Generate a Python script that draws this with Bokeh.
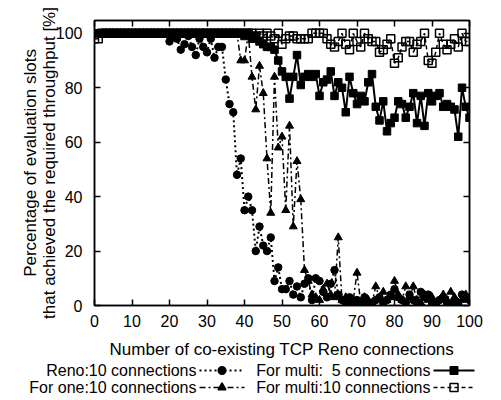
from bokeh.plotting import figure
from bokeh.models import Range1d, LinearAxis, FixedTicker, ColumnDataSource, CustomJSTickFormatter
from bokeh.layouts import column
from bokeh.embed import file_html
from bokeh.resources import INLINE
from bokeh.core.properties import value

# ---------------- data ----------------
connections = list(range(0, 101))

reno_10 = [
    100, 100, 100, 100, 100, 100, 100, 100, 100, 100,   # 0-9
    100, 100, 100, 100, 100, 100, 100, 100, 100, 100,   # 10-19
    97, 99, 98, 94, 96, 99, 95, 92, 98, 95,             # 20-29
    93, 98, 91, 95, 95, 83, 74, 71, 48, 54,             # 30-39
    35, 40, 35, 20, 29, 22, 20, 25, 9, 14,              # 40-49
    6, 6, 9, 4, 7, 3, 8, 10, 2, 10,                     # 50-59
    9, 5, 3, 8, 13, 4, 2, 1, 3, 0,                      # 60-69
    2, 1, 3, 1, 0, 2, 3, 1, 2, 4,                       # 70-79
    6, 3, 2, 1, 4, 2, 0, 5, 3, 4,                       # 80-89
    1, 0, 2, 3, 1, 0, 2, 1, 4, 3,                       # 90-99
    2,
]

one_10 = [
    100, 100, 100, 100, 100, 100, 100, 100, 100, 100,   # 0-9
    100, 100, 100, 100, 100, 100, 100, 100, 100, 100,   # 10-19
    100, 100, 100, 100, 100, 100, 100, 100, 100, 100,   # 20-29
    100, 100, 100, 100, 100, 100, 100, 100, 100, 90,    # 30-39
    90, 100, 84, 72, 88, 78, 54, 34, 84, 58,            # 40-49
    62, 35, 66, 29, 53, 39, 13, 9, 4, 3,                # 50-59
    2, 6, 8, 4, 3, 25, 2, 3, 1, 2,                      # 60-69
    12, 1, 3, 2, 1, 7, 3, 5, 2, 3,                      # 70-79
    9, 4, 2, 7, 3, 7, 2, 1, 4, 2,                       # 80-89
    3, 1, 2, 4, 2, 5, 3, 1, 2, 4,                       # 90-99
    3,
]

multi_5 = [
    100, 100, 100, 100, 100, 100, 100, 100, 100, 100,   # 0-9
    100, 100, 100, 100, 100, 100, 100, 100, 100, 100,   # 10-19
    100, 100, 100, 100, 100, 100, 100, 100, 100, 100,   # 20-29
    100, 100, 100, 100, 100, 100, 100, 100, 100, 100,   # 30-39
    99, 100, 98, 99, 97, 96, 95, 95, 94, 90,            # 40-49
    86, 84, 76, 84, 92, 81, 84, 85, 84, 85,             # 50-59
    77, 82, 83, 86, 77, 82, 80, 71, 84, 78,             # 60-69
    74, 77, 75, 82, 85, 73, 68, 75, 64, 67,             # 70-79
    69, 75, 74, 69, 73, 78, 67, 77, 66, 78,             # 80-89
    75, 77, 78, 73, 74, 73, 72, 62, 80, 73,             # 90-99
    69,
]

multi_10 = [
    98, 98, 100, 100, 100, 100, 100, 100, 100, 100,     # 0-9
    100, 100, 100, 100, 100, 100, 100, 100, 100, 100,   # 10-19
    100, 100, 100, 100, 100, 100, 100, 100, 100, 100,   # 20-29
    100, 100, 100, 100, 100, 100, 100, 100, 100, 100,   # 30-39
    100, 100, 100, 99, 100, 99, 100, 99, 98, 100,       # 40-49
    96, 98, 99, 99, 98, 98, 98, 98, 100, 100,           # 50-59
    100, 100, 98, 96, 95, 97, 100, 96, 94, 100,         # 60-69
    97, 95, 100, 98, 97, 97, 93, 94, 96, 98,            # 70-79
    89, 91, 95, 97, 97, 93, 96, 97, 100, 90,            # 80-89
    89, 93, 100, 96, 94, 96, 98, 95, 100, 97,           # 90-99
    97,
]

x_ticks = list(range(0, 101, 10))
y_ticks = list(range(0, 101, 20))

legend_labels = ["Reno:10 connections", "For one:10 connections",
                 "For multi: \u00a05 connections", "For multi:10 connections"]

# ---------------- styling ----------------
FONT = "Liberation Sans"

p = figure(width=485, height=362,
           x_range=Range1d(0, 100), y_range=Range1d(0, 104.7),
           output_backend="svg", toolbar_location=None,
           min_border_left=94, min_border_right=16,
           min_border_top=20, min_border_bottom=57)
p.frame_align = False
p.xgrid.visible = False
p.ygrid.visible = False
p.outline_line_color = "black"
p.outline_line_width = 1.5

p.xaxis.ticker = FixedTicker(ticks=x_ticks)
p.yaxis.ticker = FixedTicker(ticks=y_ticks)
p.xaxis.axis_label = "Number of co-existing TCP Reno connections"
p.yaxis.axis_label = "Percentage of evaluation slots\nthat achieved the required throughput [%]"

for ax in (p.xaxis[0], p.yaxis[0]):
    ax.major_tick_in = 6
    ax.major_tick_out = 0
    ax.minor_tick_in = 0
    ax.minor_tick_out = 0
    ax.axis_line_color = "black"
    ax.axis_line_width = 1.5
    ax.major_tick_line_color = "black"
    ax.major_tick_line_width = 1.5
    ax.major_label_text_font = FONT
    ax.major_label_text_font_size = "16px"
    ax.major_label_text_color = "black"
    ax.axis_label_text_font = FONT
    ax.axis_label_text_font_size = "17px"
    ax.axis_label_text_font_style = "normal"
    ax.axis_label_text_color = "black"

p.xaxis.major_label_standoff = 9
p.xaxis.axis_label_standoff = 10
p.yaxis.major_label_standoff = 12
p.yaxis.axis_label_standoff = -6
p.yaxis.axis_label_text_line_height = 1.0

# mirror ticks on right and top (no labels)
blank = CustomJSTickFormatter(code="return ''")
for loc, ticks in (("right", y_ticks), ("above", x_ticks)):
    ax = LinearAxis(ticker=FixedTicker(ticks=ticks), formatter=blank,
                    major_label_standoff=0, major_label_text_font_size="10px",
                    major_tick_in=6, major_tick_out=0,
                    minor_tick_in=0, minor_tick_out=0, axis_line_color="black",
                    axis_line_width=1.5, major_tick_line_width=1.5)
    p.add_layout(ax, loc)

src = ColumnDataSource(dict(x=connections, reno=reno_10, one=one_10,
                            m5=multi_5, m10=multi_10))

p.line("x", "reno", source=src, line_color="black", line_width=2, line_dash="2 3")
p.scatter("x", "reno", source=src, marker="circle", size=7.5, color="black")

p.line("x", "one", source=src, line_color="black", line_width=1.5, line_dash="6 3 2 3")
p.scatter("x", "one", source=src, marker="triangle", size=8, color="black")

p.line("x", "m5", source=src, line_color="black", line_width=2)
p.scatter("x", "m5", source=src, marker="square", size=7.5, color="black")

p.line("x", "m10", source=src, line_color="black", line_width=1.5, line_dash="4 3")
p.scatter("x", "m10", source=src, marker="square", size=8, line_color="black",
          fill_color=None, line_width=1.5)

# ---------------- legend (separate strip below) ----------------
LW, LH = 485, 38
lg = figure(width=LW, height=LH, x_range=Range1d(0, LW), y_range=Range1d(LH, 0),
            output_backend="svg", toolbar_location=None,
            x_axis_location=None, y_axis_location=None, min_border=0)
lg.frame_align = False
lg.grid.visible = False
lg.outline_line_color = None

col_right = [196, 196, 430, 430]
row_y = [8, 25, 8, 25]
sample_len = [45, 45, 41, 41]
dashes = ["2 3", "6 3 2 3", "solid", "4 3"]
markers = ["circle", "triangle", "square", "square"]
fills = ["black", "black", "black", None]
msize = [7.5, 8, 7.5, 8]

lg.text(x=col_right, y=row_y, text=legend_labels, text_align="right",
        text_baseline="middle", text_font=value(FONT), text_font_size="16px",
        text_color="black")
for i in range(4):
    x0 = col_right[i] + 3
    x1 = x0 + sample_len[i]
    lg.segment(x0=[x0], y0=[row_y[i]], x1=[x1], y1=[row_y[i]], line_color="black",
               line_width=2 if i in (0, 2) else 1.5, line_dash=dashes[i])
    lg.scatter(x=[(x0 + x1) / 2], y=[row_y[i]], marker=markers[i], size=msize[i],
               line_color="black", fill_color=fills[i], line_width=1.5)

layout = column(p, lg, spacing=0)
open("out.html", "w").write(file_html(layout, INLINE))
